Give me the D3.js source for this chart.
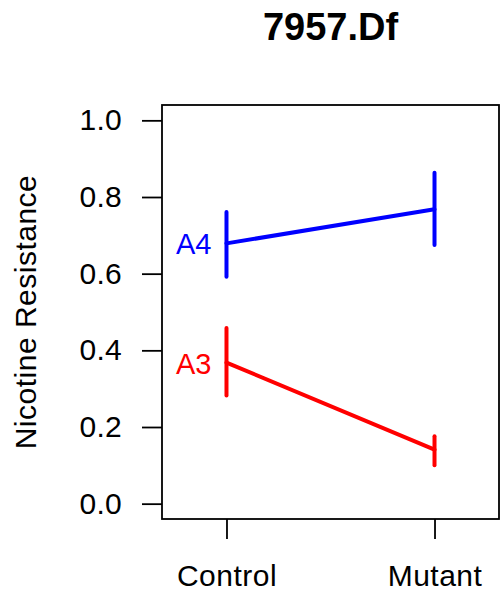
<!DOCTYPE html>
<html>
<head>
<meta charset="utf-8">
<script src="https://cdn.jsdelivr.net/npm/d3@7"></script>
<style>
  body { margin: 0; background: #fff; }
  svg { display: block; font-family: "Liberation Sans", Arial, Helvetica, sans-serif; }
</style>
</head>
<body>
<svg id="chart"></svg>
<script>
// data
let conditions = ["Control", "Mutant"];
let lines = ["A4", "A3"];
let lineColors = ["#0000ff", "#ff0000"];
let meanA4 = [0.679, 0.768];
let lowA4 = [0.592, 0.675];
let highA4 = [0.761, 0.863];
let meanA3 = [0.368, 0.141];
let lowA3 = [0.282, 0.100];
let highA3 = [0.458, 0.176];
let yTicks = [0, 0.2, 0.4, 0.6, 0.8, 1.0];

let width = 500;
let height = 596;
let box = { left: 162, right: 499, top: 105, bottom: 519 };

let series = [
	{ name: lines[0], color: lineColors[0], mean: meanA4, low: lowA4, high: highA4 },
	{ name: lines[1], color: lineColors[1], mean: meanA3, low: lowA3, high: highA3 }
];

let svg = d3.select('#chart')
	.attr('width', width)
	.attr('height', height);

let x = d3.scalePoint()
	.domain(conditions)
	.range([box.left, box.right])
	.padding(0.31);

let y = d3.scaleLinear()
	.domain([-0.04, 1.04])
	.range([box.bottom, box.top]);

// title
svg.append('text')
	.attr('x', (box.left + box.right) / 2)
	.attr('y', 40)
	.attr('text-anchor', 'middle')
	.style('font-size', '38px')
	.style('font-weight', 'bold')
	.text('7957.Df');

// y axis
let yAxis = svg.append('g')
	.attr('transform', 'translate(' + box.left + ',0)')
	.call(d3.axisLeft(y).tickValues(yTicks).tickFormat(d3.format('.1f')).tickSize(20).tickPadding(20));
yAxis.select('.domain').remove();
yAxis.selectAll('line').attr('stroke', '#000').attr('stroke-width', 1.8);
yAxis.selectAll('text').style('font-size', '30px').style('letter-spacing', '0.3px').attr('fill', '#000').attr('font-family', null);

// x axis
let xAxis = svg.append('g')
	.attr('transform', 'translate(0,' + box.bottom + ')')
	.call(d3.axisBottom(x).tickSize(20).tickPadding(26));
xAxis.select('.domain').remove();
xAxis.selectAll('line').attr('stroke', '#000').attr('stroke-width', 1.8);
xAxis.selectAll('text').style('font-size', '30px').style('letter-spacing', '0.5px').attr('fill', '#000').attr('font-family', null);

// plot box
svg.append('rect')
	.attr('x', box.left)
	.attr('y', box.top)
	.attr('width', box.right - box.left)
	.attr('height', box.bottom - box.top)
	.attr('fill', 'none')
	.attr('stroke', '#000')
	.attr('stroke-width', 1.8);

// y label
svg.append('text')
	.attr('transform', 'translate(36,' + (box.top + box.bottom) / 2 + ') rotate(-90)')
	.attr('text-anchor', 'middle')
	.style('font-size', '30px')
	.style('letter-spacing', '0.5px')
	.text('Nicotine Resistance');

let lineGen = d3.line()
	.x(function(d, i) { return x(conditions[i]); })
	.y(function(d) { return y(d); });

let groups = svg.selectAll('.series')
	.data(series)
	.enter()
	.append('g')
	.attr('class', 'series');

groups.append('path')
	.attr('d', function(d) { return lineGen(d.mean); })
	.attr('fill', 'none')
	.attr('stroke', function(d) { return d.color; })
	.attr('stroke-width', 4)
	.attr('stroke-linecap', 'round');

groups.each(function(s) {
	d3.select(this).selectAll('.err')
		.data(conditions)
		.enter()
		.append('line')
		.attr('class', 'err')
		.attr('x1', function(c) { return x(c); })
		.attr('x2', function(c) { return x(c); })
		.attr('y1', function(c, i) { return y(s.low[i]); })
		.attr('y2', function(c, i) { return y(s.high[i]); })
		.attr('stroke', s.color)
		.attr('stroke-width', 4)
		.attr('stroke-linecap', 'round');
});

groups.append('text')
	.attr('x', x(conditions[0]) - 15)
	.attr('y', function(d) { return y(d.mean[0]); })
	.attr('dy', '0.38em')
	.attr('text-anchor', 'end')
	.attr('fill', function(d) { return d.color; })
	.style('font-size', '29px')
	.text(function(d) { return d.name; });
</script>
</body>
</html>
